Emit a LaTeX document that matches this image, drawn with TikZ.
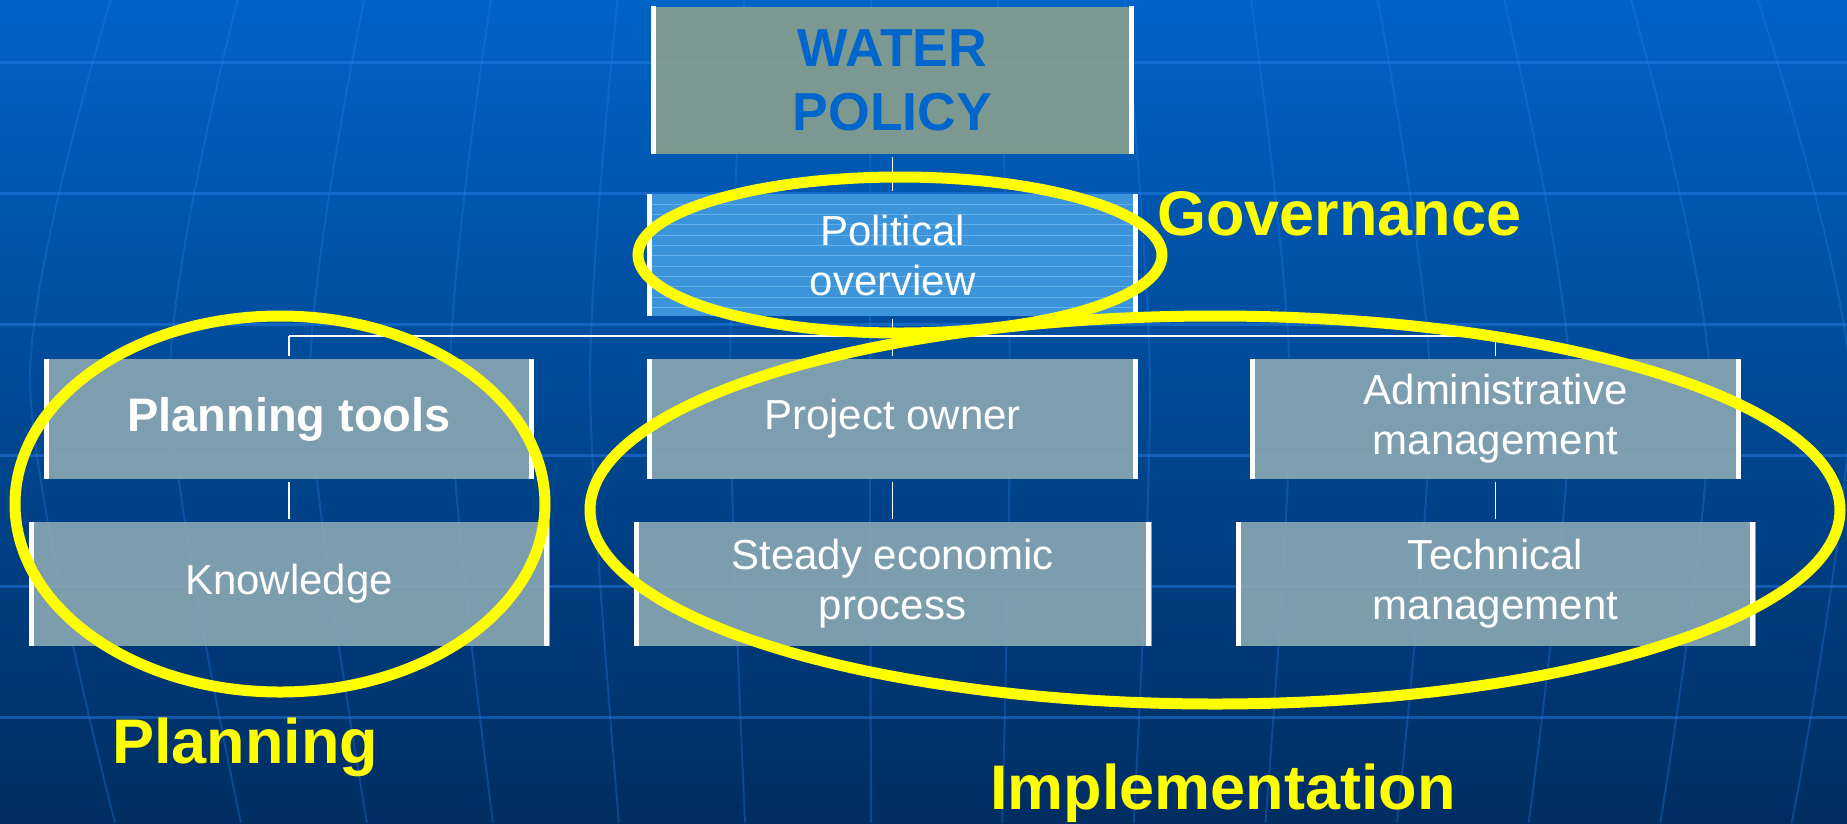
\documentclass[tikz,border=0pt]{standalone}
\usepackage{fontspec}
\setmainfont{Liberation Sans}
\definecolor{bgtop}{RGB}{0,99,198}
\definecolor{bgmid}{RGB}{0,80,160}
\definecolor{bgbot}{RGB}{0,45,98}
\definecolor{gridc}{RGB}{40,130,235}
\definecolor{topfill}{RGB}{137,160,140}
\definecolor{boxfill}{RGB}{138,168,178}
\definecolor{polfill}{RGB}{60,149,218}
\definecolor{polstripe}{RGB}{96,175,235}
\definecolor{titleblue}{RGB}{0,102,204}
\definecolor{ringyellow}{RGB}{255,255,0}
\begin{document}
\begin{tikzpicture}[x=1pt,y=-1pt,
  box/.style={fill=boxfill, fill opacity=0.9, text opacity=1, inner sep=0pt,
    align=center, text=white, font=\fontsize{42}{50}\selectfont},
  sidebar/.style={draw=white, line width=5pt},
  conn/.style={draw=white, line width=1.6pt, shorten <=3pt, shorten >=3pt},
  ring/.style={draw=ringyellow, line width=11pt},
  lbl/.style={text=ringyellow, inner sep=0pt, anchor=base west, font=\fontsize{63}{75}\selectfont\bfseries},
  gridline/.style={draw=gridc, line width=3pt, opacity=0.45},
  meridian/.style={draw=gridc, line width=2pt, opacity=0.3}]
\useasboundingbox (0,0) rectangle (1847,823);
% background
\shade[top color=bgtop, middle color=bgmid, bottom color=bgbot] (0,0) rectangle (1847,823);
\foreach \yy in {62,193,324,455,586,717}
  \draw[gridline] (0,\yy) -- (1847,\yy);
\foreach \xm in {-110,30,170,310,450,590,730,870,1010,1150,1290,1430,1570,1710,1850,1990}{
  \pgfmathsetmacro\xt{880+(\xm-880)*0.905}
  \pgfmathsetmacro\fb{\xm>880 ? 0.94 : 0.9}
  \pgfmathsetmacro\xb{880+(\xm-880)*\fb}
  \draw[meridian] plot[smooth] coordinates {(\xt,0) (\xm,380) (\xb,823)};
}
% boxes
\node[box, fill=topfill, minimum width=483pt, minimum height=147pt,
  text=titleblue, font=\fontsize{53.5}{64}\selectfont\bfseries] (water) at (892.5,80) {WATER\\POLICY};
\node[box, fill=polfill, fill opacity=1, minimum width=491pt, minimum height=122pt,
  path picture={\foreach \i in {1,...,11}
    \draw[polstripe, line width=1pt] ([yshift=-10.3*\i pt]path picture bounding box.north west) -- ([yshift=-10.3*\i pt]path picture bounding box.north east);}]
  (pol) at (892.5,255) {Political\\overview};
\node[box, minimum width=490pt, minimum height=120pt, font=\fontsize{47}{56}\selectfont\bfseries] (plan) at (289,419) {Planning tools};
\node[box, minimum width=521pt, minimum height=124pt] (know) at (289,584) {Knowledge};
\node[box, minimum width=491pt, minimum height=120pt] (proj) at (892.5,419) {Project owner};
\node[box, minimum width=518pt, minimum height=124pt] (steady) at (892.5,584) {Steady economic\\\rule{0pt}{0pt}process};
\node[box, minimum width=491pt, minimum height=120pt] (admin) at (1495.5,419) {Administrative\\management};
\node[box, minimum width=520pt, minimum height=124pt] (tech) at (1495.5,584) {Technical\\management};
\foreach \n in {water,pol,plan,know,proj,steady,admin,tech}{
  \draw[sidebar] ([xshift=3pt]\n.north west) -- ([xshift=3pt]\n.south west);
  \draw[sidebar] ([xshift=-3pt]\n.north east) -- ([xshift=-3pt]\n.south east);
}
% connectors
\coordinate (bus) at (892.5,336);
\coordinate (busl) at (289,336);
\coordinate (busr) at (1495.5,336);
\draw[conn] (water) -- (pol);
\draw[conn, shorten >=0pt] (pol) -- (bus);
\draw[draw=white, line width=1.6pt] (busl) -- (busr);
\draw[conn, shorten <=0pt] (busl) -- (plan);
\draw[conn, shorten <=0pt] (bus) -- (proj);
\draw[conn, shorten <=0pt] (busr) -- (admin);
\draw[conn] (plan) -- (know);
\draw[conn] (proj) -- (steady);
\draw[conn] (admin) -- (tech);
% rings
\draw[ring] (900,255) ellipse [x radius=262pt, y radius=78pt];
\draw[ring] (280,504) ellipse [x radius=265pt, y radius=188pt];
\draw[ring] (1215,510) ellipse [x radius=625pt, y radius=194pt];
% labels
\node[lbl] (gov) at (1157,235) {Governance};
\node[lbl] (planlbl) at (112,763) {Planning};
\node[lbl] (impl) at (990,809) {Implementation};
\end{tikzpicture}
\end{document}
